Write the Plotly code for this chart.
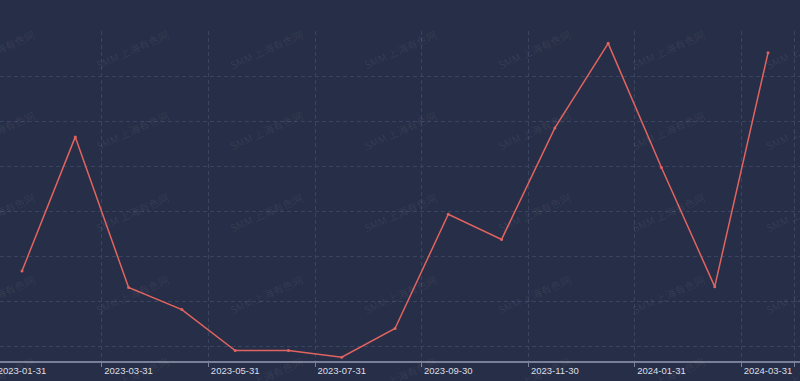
import plotly.graph_objects as go

dates = ["2023-01-31", "2023-02-28", "2023-03-31", "2023-04-30", "2023-05-31",
         "2023-06-30", "2023-07-31", "2023-08-31", "2023-09-30", "2023-10-31",
         "2023-11-30", "2023-12-31", "2024-01-31", "2024-02-29", "2024-03-31"]
values = [26.7, 56.5, 23.0, 18.1, 9.0, 9.0, 7.5, 13.9, 39.3, 33.7,
          58.5, 77.3, 49.7, 23.2, 75.2]
label_idx = list(range(0, len(dates), 2))
label_text = [dates[i] for i in label_idx]
boundaries = [i - 0.5 for i in label_idx] + [len(dates) - 0.5]
y_grid = [10, 20, 30, 40, 50, 60, 70, 80]

W, H = 800, 381
ML, MR, MT, MB = 0, 0, 31, 20
BG = "#272e47"
GRID = "#3a4461"
AXIS = "#7a8098"
LINE = "#e0645f"

fig = go.Figure()
fig.add_trace(go.Scatter(
    x=list(range(len(dates))), y=values, mode="lines+markers",
    line=dict(color=LINE, width=1.5), marker=dict(color=LINE, size=3),
    hoverinfo="skip", showlegend=False))

# watermark grid (pixel positions -> paper coords)
annotations = []
cols = [-2, 132, 266, 400, 534, 668, 802]
rows = [49, 130, 212, 294, 376]
pw, ph = W - ML - MR, H - MT - MB
for ry in rows:
    for cx in cols:
        annotations.append(dict(
            x=(cx - ML) / pw, y=(H - MB - ry) / ph, xref="paper", yref="paper",
            text="SMM 上海有色网", showarrow=False, textangle=-24,
            font=dict(family="Noto Sans CJK SC", size=10.5, color="rgba(255,255,255,0.075)"),
            xanchor="center", yanchor="middle"))

fig.update_layout(
    width=W, height=H, margin=dict(l=ML, r=MR, t=MT, b=MB, autoexpand=False),
    paper_bgcolor=BG, plot_bgcolor=BG,
    annotations=annotations,
    xaxis=dict(range=[-0.413, 14.60], tickmode="array", tickvals=label_idx,
               ticktext=label_text, ticks="", showgrid=False, zeroline=False,
               showline=True, linecolor=AXIS, linewidth=1.5, automargin=False,
               ticklabeloverflow="allow",
               tickfont=dict(family="Liberation Sans", size=9.5, color="#dcdfe6"),
               minor=dict(tickmode="array", tickvals=boundaries, ticks="outside",
                          ticklen=4, tickcolor=AXIS, tickwidth=1, showgrid=True,
                          gridcolor=GRID, gridwidth=1, griddash="4px,3px")),
    yaxis=dict(range=[6.667, 80.05], tickmode="array", tickvals=y_grid,
               showticklabels=False, ticks="", showgrid=True, gridcolor=GRID,
               gridwidth=1, griddash="4px,3px", zeroline=False, showline=False,
               automargin=False),
)

fig.write_html("out.html")
